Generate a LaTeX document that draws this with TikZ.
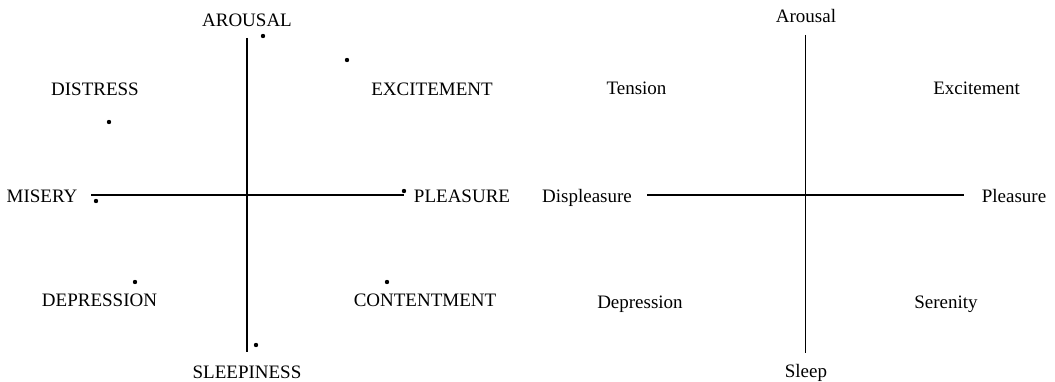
\documentclass[tikz,border=0pt]{standalone}
\usepackage{fontspec}
\setmainfont{Liberation Serif}
\begin{document}
\begin{tikzpicture}[x=1pt,y=-1pt,
  lbl/.style={anchor=base,inner sep=0pt,font=\fontsize{19}{22}\selectfont},
  axis/.style={line width=1.3pt},
  pt/.style={fill=black}]
\useasboundingbox (0,0) rectangle (1055,382);
% left diagram
\coordinate (lt) at (247,38);
\coordinate (lb) at (247,352);
\coordinate (ll) at (91,195);
\coordinate (lr) at (404,195);
\draw[axis] (lt) -- (lb);
\draw[axis] (ll) -- (lr);
\node[lbl] (aro) at (247,27) {AROUSAL};
\node[lbl] (dis) at (95,96) {DISTRESS};
\node[lbl] (exc) at (432,96) {EXCITEMENT};
\node[lbl] (mis) at (42,203) {MISERY};
\node[lbl] (ple) at (462,203) {PLEASURE};
\node[lbl] (dep) at (99.5,306) {DEPRESSION};
\node[lbl] (con) at (425,306) {CONTENTMENT};
\node[lbl] (slp) at (247,378) {SLEEPINESS};
\fill[pt] (263,36) circle (2.2);
\fill[pt] (347,60) circle (2.2);
\fill[pt] (109,122) circle (2.2);
\fill[pt] (404,191) circle (2.2);
\fill[pt] (96,201) circle (2.2);
\fill[pt] (135,282) circle (2.2);
\fill[pt] (387,282) circle (2.2);
\fill[pt] (256,345) circle (2.2);
% right diagram
\coordinate (rt) at (805.5,35);
\coordinate (rb) at (805.5,353);
\coordinate (rl) at (647,195);
\coordinate (rr) at (964,195);
\draw[axis] (rt) -- (rb);
\draw[axis] (rl) -- (rr);
\node[lbl] (raro) at (806,23) {Arousal};
\node[lbl] (rten) at (636.5,95) {Tension};
\node[lbl] (rexc) at (976.5,95) {Excitement};
\node[lbl] (rdis) at (587,203) {Displeasure};
\node[lbl] (rple) at (1014,203) {Pleasure};
\node[lbl] (rdep) at (640,308) {Depression};
\node[lbl] (rser) at (946,308) {Serenity};
\node[lbl] (rslp) at (806,377) {Sleep};
\end{tikzpicture}
\end{document}
